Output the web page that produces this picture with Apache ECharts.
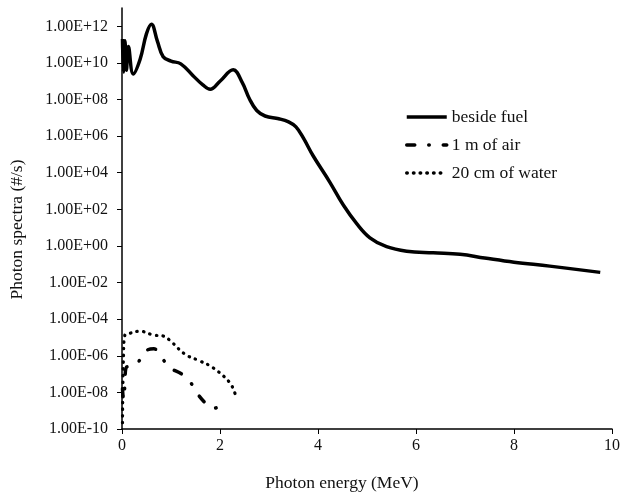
<!DOCTYPE html>
<html>
<head>
<meta charset="utf-8">
<script src="https://cdn.jsdelivr.net/npm/echarts@6/dist/echarts.min.js"></script>
<style>
  html, body { margin: 0; padding: 0; background: #fff; }
  #chart { width: 633px; height: 497px; }
</style>
</head>
<body>
<div id="chart"></div>
<script>
// beside fuel
const fuelEnergy = [0.01, 0.03, 0.06, 0.09, 0.13, 0.23, 0.37, 0.5, 0.6, 0.72, 0.84, 1.0, 1.2, 1.45, 1.65, 1.8, 2.0, 2.27, 2.45, 2.6, 2.75, 2.92, 3.2, 3.4, 3.55, 3.7, 3.9, 4.24, 4.52, 4.79, 5.06, 5.4, 5.81, 6.35, 6.9, 7.4, 8.0, 8.73, 9.76];
const fuelFlux = [2.0e11, 3.2e9, 1.6e11, 4.0e9, 7.9e10, 2.5e9, 1.6e10, 4.0e11, 1.3e12, 1.6e11, 2.2e10, 1.26e10, 8.9e9, 2.0e9, 6.3e8, 3.6e8, 1.0e9, 4.2e9, 8.9e8, 1.1e8, 2.5e7, 1.26e7, 8.9e6, 6.0e6, 3.2e6, 8.0e5, 8.5e4, 3.1e3, 166, 16.6, 2.8, 0.91, 0.52, 0.42, 0.35, 0.22, 0.13, 0.079, 0.036];

// 1 m of air
const airEnergy = [0.01, 0.03, 0.05, 0.1, 0.2, 0.33, 0.48, 0.65, 0.81, 0.98, 1.22, 1.39, 1.52, 1.73, 1.85, 2.1];
const airFlux = [1.6e-8, 4.0e-9, 1.3e-8, 2.5e-7, 2.6e-7, 4.5e-7, 1.8e-6, 2.4e-6, 7.8e-7, 2.2e-7, 1.0e-7, 3.8e-8, 1.0e-8, 2.2e-9, 1.3e-9, 2.8e-9];

// 20 cm of water
const waterEnergy = [0.01, 0.03, 0.06, 0.16, 0.37, 0.64, 0.84, 0.98, 1.29, 1.59, 1.86, 2.2, 2.31];
const waterFlux = [2.2e-10, 1.0e-6, 1.4e-5, 1.7e-5, 2.2e-5, 1.35e-5, 1.2e-5, 6.8e-6, 1.2e-6, 5.2e-7, 2.2e-7, 3.4e-8, 8.0e-9];

const xTicks = [0, 2, 4, 6, 8, 10];
const yTicks = [1e-10, 1e-8, 1e-6, 1e-4, 1e-2, 1e0, 1e2, 1e4, 1e6, 1e8, 1e10, 1e12];

const pairs = (xs, ys) => xs.map((x, i) => [x, ys[i]]);
const FONT = "Liberation Serif";
const INK = "#111";

function sci(v) {
  const e = Math.round(Math.log10(v));
  return "1.00E" + (e < 0 ? "-" : "+") + String(Math.abs(e)).padStart(2, "0");
}

const chart = echarts.init(document.getElementById("chart"));
chart.setOption({
  animation: false,
  backgroundColor: "#fff",
  textStyle: { fontFamily: FONT, color: INK },
  grid: { left: 122, right: 21, top: 8, bottom: 65, containLabel: false },
  legend: {
    orient: "vertical",
    left: 400,
    top: 103,
    itemWidth: 40,
    itemHeight: 14,
    itemGap: 10,
    itemStyle: { opacity: 0 },
    lineStyle: { width: 3.5 },
    textStyle: { fontFamily: FONT, fontSize: 17.5, color: INK },
    data: ["beside fuel", "1 m of air", "20 cm of water"],
  },
  xAxis: {
    type: "value",
    min: 0,
    max: 10,
    interval: 2,
    name: "Photon energy (MeV)",
    nameLocation: "middle",
    nameGap: 45,
    nameTextStyle: { fontFamily: FONT, fontSize: 17.5, color: INK, padding: [0, 50, 0, 0] },
    axisLine: { onZero: false, lineStyle: { color: "#000", width: 1.5 } },
    axisTick: { show: true, inside: false, length: 5, customValues: xTicks, lineStyle: { color: "#000" } },
    axisLabel: { fontFamily: FONT, fontSize: 16, color: INK, margin: 9, customValues: xTicks },
    splitLine: { show: false },
  },
  yAxis: {
    type: "log",
    logBase: 10,
    min: 1e-10,
    max: 1e13,
    name: "Photon spectra (#/s)",
    nameLocation: "middle",
    nameGap: 96,
    nameTextStyle: { fontFamily: FONT, fontSize: 17.5, color: INK, padding: [0, 22, 0, 0] },
    axisLine: { show: true, lineStyle: { color: "#000", width: 1.5 } },
    axisTick: { show: true, inside: false, length: 5, customValues: yTicks, lineStyle: { color: "#000" } },
    axisLabel: { fontFamily: FONT, fontSize: 16, color: INK, margin: 14, customValues: yTicks, formatter: sci },
    splitLine: { show: false },
    minorTick: { show: false },
  },
  series: [
    {
      name: "beside fuel",
      type: "line",
      smooth: 0.4,
      symbol: "none",
      data: pairs(fuelEnergy, fuelFlux),
      lineStyle: { color: "#000", width: 3.5 },
      itemStyle: { color: "#000" },
    },
    {
      name: "1 m of air",
      type: "line",
      smooth: 0.4,
      symbol: "none",
      data: pairs(airEnergy, airFlux),
      lineStyle: { color: "#000", width: 3.5, type: [8, 14, 0.5, 14], cap: "round" },
      itemStyle: { color: "#000" },
    },
    {
      name: "20 cm of water",
      type: "line",
      smooth: 0.4,
      symbol: "none",
      data: pairs(waterEnergy, waterFlux),
      lineStyle: { color: "#000", width: 3.2, type: [0.5, 6.2], cap: "round" },
      itemStyle: { color: "#000" },
    },
  ],
});
</script>
</body>
</html>
